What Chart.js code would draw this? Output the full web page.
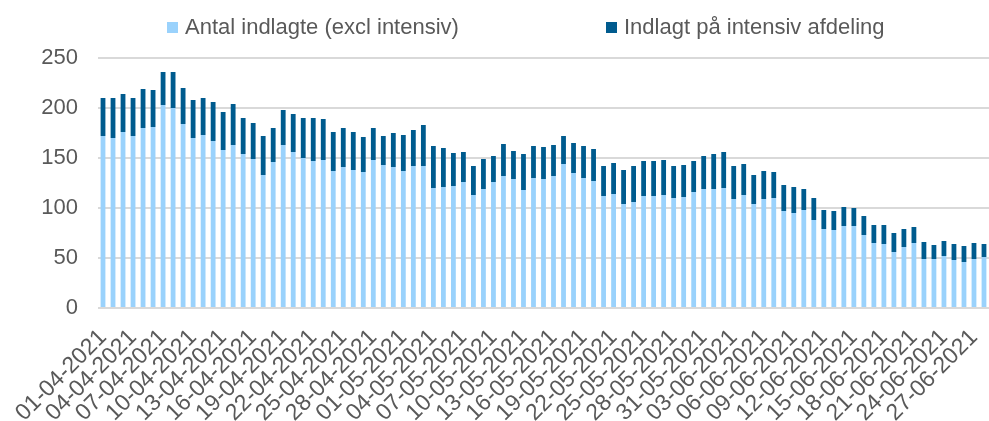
<!DOCTYPE html>
<html>
<head>
<meta charset="utf-8">
<script src="https://cdn.jsdelivr.net/npm/chart.js@4"></script>
<style>
  html, body { margin: 0; padding: 0; background: #fff; }
  #wrap { position: relative; width: 989px; height: 421px; }
  #legend { position: absolute; top: 12px; left: 0; width: 989px; height: 30px;
            font-family: 'Liberation Sans', Arial, sans-serif; font-size: 22px; color: #595959; }
  .item { position: absolute; top: 0; line-height: 30px; white-space: nowrap; }
  .box { display: inline-block; width: 11px; height: 11px; margin-right: 7px; vertical-align: 1px; }
</style>
</head>
<body>
<div id="wrap">
  <canvas id="chart" width="989" height="421"></canvas>
  <div id="legend"></div>
</div>
<script>
// ── Data ─────────────────────────────────────
const DATES = [
  '01-04-2021','02-04-2021','03-04-2021','04-04-2021','05-04-2021','06-04-2021','07-04-2021','08-04-2021','09-04-2021','10-04-2021',
  '11-04-2021','12-04-2021','13-04-2021','14-04-2021','15-04-2021','16-04-2021','17-04-2021','18-04-2021','19-04-2021','20-04-2021',
  '21-04-2021','22-04-2021','23-04-2021','24-04-2021','25-04-2021','26-04-2021','27-04-2021','28-04-2021','29-04-2021','30-04-2021',
  '01-05-2021','02-05-2021','03-05-2021','04-05-2021','05-05-2021','06-05-2021','07-05-2021','08-05-2021','09-05-2021','10-05-2021',
  '11-05-2021','12-05-2021','13-05-2021','14-05-2021','15-05-2021','16-05-2021','17-05-2021','18-05-2021','19-05-2021','20-05-2021',
  '21-05-2021','22-05-2021','23-05-2021','24-05-2021','25-05-2021','26-05-2021','27-05-2021','28-05-2021','29-05-2021','30-05-2021',
  '31-05-2021','01-06-2021','02-06-2021','03-06-2021','04-06-2021','05-06-2021','06-06-2021','07-06-2021','08-06-2021','09-06-2021',
  '10-06-2021','11-06-2021','12-06-2021','13-06-2021','14-06-2021','15-06-2021','16-06-2021','17-06-2021','18-06-2021','19-06-2021',
  '20-06-2021','21-06-2021','22-06-2021','23-06-2021','24-06-2021','25-06-2021','26-06-2021','27-06-2021','28-06-2021'
];

// Antal indlagte (excl intensiv)
const WARD = [
  172,170,176,172,180,181,203,200,184,170,
  173,167,158,163,154,149,133,146,163,156,
  150,147,148,137,141,138,136,148,143,141,
  137,142,142,120,121,122,126,113,119,126,
  132,129,118,130,129,132,144,135,130,127,
  112,114,104,106,112,112,113,110,111,116,
  119,119,120,109,113,104,109,110,97,95,
  98,88,79,78,82,82,73,65,64,56,
  61,65,49,49,52,48,46,49,51
];

// Indlagt på intensiv afdeling
const ICU = [
  38,40,38,38,39,37,33,36,36,38,
  37,39,38,41,36,36,39,34,35,38,
  40,43,41,39,39,38,35,32,29,34,
  36,36,41,42,39,33,30,29,30,26,
  32,28,36,32,32,31,28,30,32,32,
  30,31,34,36,35,35,35,32,32,31,
  33,35,36,33,31,29,28,26,26,26,
  21,22,19,19,19,18,19,18,19,19,
  18,16,17,14,15,16,16,16,13
];

const TICK_STEP = 3;   // show every 3rd date

const WARD_COLOR = '#9ad2fc';
const ICU_COLOR = '#005b8e';
const TEXT = '#595959';
const FONT = "'Liberation Sans', Arial, sans-serif";

// ── HTML legend ──────────────────────────────
const legendItems = [
  { text: 'Antal indlagte (excl intensiv)', color: WARD_COLOR, left: 167 },
  { text: 'Indlagt på intensiv afdeling', color: ICU_COLOR, left: 606 },
];
const legendEl = document.getElementById('legend');
legendItems.forEach(it => {
  const span = document.createElement('span');
  span.className = 'item';
  span.style.left = it.left + 'px';
  span.innerHTML = `<span class="box" style="background:${it.color}"></span>${it.text}`;
  legendEl.appendChild(span);
});

// ── Chart ────────────────────────────────────
new Chart(document.getElementById('chart'), {
  type: 'bar',
  data: {
    labels: DATES,
    datasets: [
      { label: 'Antal indlagte (excl intensiv)', data: WARD, backgroundColor: WARD_COLOR,
        categoryPercentage: 1, barPercentage: 0.48 },
      { label: 'Indlagt på intensiv afdeling', data: ICU, backgroundColor: ICU_COLOR,
        categoryPercentage: 1, barPercentage: 0.48 },
    ],
  },
  options: {
    responsive: false,
    animation: false,
    layout: { padding: { top: 58, left: 0, right: 0, bottom: 0 } },
    plugins: { legend: { display: false }, tooltip: { enabled: false } },
    scales: {
      x: {
        stacked: true,
        grid: { display: false },
        border: { display: false },
        ticks: {
          autoSkip: false, minRotation: 45, maxRotation: 45, padding: 8,
          color: TEXT, font: { family: FONT, size: 23 },
          callback: (v, i) => (i % TICK_STEP === 0 ? DATES[i] : ''),
        },
        afterFit: s => { s.height = 113; s.paddingLeft = 0; s.paddingRight = 0; },
      },
      y: {
        stacked: true,
        min: 0, max: 250,
        border: { display: false },
        grid: { color: '#d9d9d9', lineWidth: 2, drawTicks: false },
        ticks: { stepSize: 50, padding: 20, color: TEXT, font: { family: FONT, size: 22 } },
        afterFit: s => { s.width = 98; },
      },
    },
  },
});
</script>
</body>
</html>
